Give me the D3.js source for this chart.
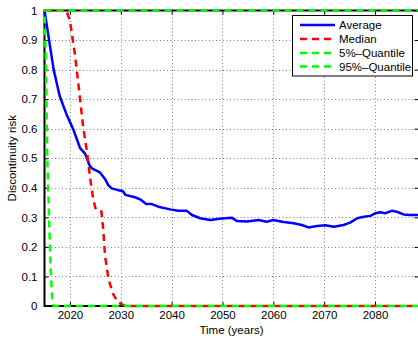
<!DOCTYPE html>
<html>
<head>
<meta charset="utf-8">
<script src="https://cdn.jsdelivr.net/npm/d3@7"></script>
<style>
  html, body { margin: 0; padding: 0; background: #fff; }
  svg { display: block; }
  text { font-family: "Liberation Sans", Arial, sans-serif; fill: #000; }
</style>
</head>
<body>
<svg id="chart" width="418" height="338"></svg>
<script>
// Discontinuity risk over time: average, median and 5%/95% quantiles
const avgYears = [2015, 2015.9, 2016.8, 2018.0, 2019.3, 2020.7, 2022.0, 2022.5, 2023.0, 2023.8, 2024.3,
  2025.9, 2026.9, 2027.5, 2028.2, 2029.5, 2030.4, 2030.9, 2032.8, 2033.8, 2035.0, 2036.1, 2037.4,
  2039.7, 2041.3, 2043.0, 2044.0, 2045.6, 2047.6, 2049.4, 2051.8, 2052.8, 2054.8, 2057.1, 2058.7,
  2060.0, 2062.0, 2064.0, 2065.6, 2066.9, 2068.6, 2070.2, 2071.9, 2073.8, 2075.1, 2076.5, 2077.8,
  2079.1, 2080.1, 2081.0, 2082.0, 2083.3, 2084.3, 2085.6, 2086.9, 2088.6];
const avgValues = [1.0, 0.9, 0.80, 0.71, 0.65, 0.596, 0.534, 0.525, 0.515, 0.478, 0.466,
  0.452, 0.43, 0.41, 0.398, 0.392, 0.389, 0.376, 0.368, 0.361, 0.345, 0.345, 0.336,
  0.327, 0.322, 0.322, 0.308, 0.297, 0.291, 0.295, 0.299, 0.288, 0.286, 0.291, 0.285,
  0.291, 0.284, 0.28, 0.274, 0.266, 0.271, 0.273, 0.268, 0.274, 0.282, 0.297, 0.302,
  0.305, 0.314, 0.317, 0.314, 0.322, 0.319, 0.31, 0.308, 0.308];

const medYears = [2015, 2019.3, 2020.0, 2021.0, 2021.8, 2022.6, 2023.3, 2024.0, 2024.6, 2025.1,
  2026.2, 2026.6, 2026.9, 2027.6, 2028.5, 2029.5, 2030.5, 2031.5, 2088.6];
const medValues = [1.0, 1.0, 0.965, 0.85, 0.73, 0.607, 0.528, 0.43, 0.36, 0.326,
  0.32, 0.25, 0.17, 0.09, 0.04, 0.012, 0.003, 0, 0];

const q05Years = [2015, 2015.3, 2015.55, 2015.9, 2016.2, 2016.5, 2016.8, 2088.6];
const q05Values = [1.0, 0.8, 0.5, 0.3, 0.13, 0.03, 0, 0];

const q95Years = [2015, 2088.6];
const q95Values = [1.0, 1.0];

const xTicks = [2020, 2030, 2040, 2050, 2060, 2070, 2080];
const yTicks = [0, 0.1, 0.2, 0.3, 0.4, 0.5, 0.6, 0.7, 0.8, 0.9, 1];

const seriesNames = ["Average", "Median", "5%\u2013Quantile", "95%\u2013Quantile"];
const seriesColors = ["#0000ff", "#ff0000", "#00ff00", "#00ff00"];
const seriesDash = [null, "7,5", "7,5", "7,5"];

const zip = (xs, ys) => xs.map((v, i) => [v, ys[i]]);
const series = [
  zip(avgYears, avgValues),
  zip(medYears, medValues),
  zip(q05Years, q05Values),
  zip(q95Years, q95Values)
];

const svg = d3.select("#chart");
const plotLeft = 44.5, plotRight = 418.5, plotTop = 10.5, plotBottom = 306;

const x = d3.scaleLinear().domain([2015, 2088.55]).range([plotLeft, plotRight]);
const y = d3.scaleLinear().domain([0, 1]).range([plotBottom, plotTop]);

// grid
const grid = svg.append("g").attr("stroke", "#808080").attr("stroke-width", 1)
  .attr("stroke-dasharray", "1,2.5");
grid.selectAll("line.gx").data(xTicks).join("line")
  .attr("x1", d => Math.round(x(d)) + 0.5).attr("x2", d => Math.round(x(d)) + 0.5)
  .attr("y1", plotTop).attr("y2", plotBottom);
grid.selectAll("line.gy").data(yTicks.filter(d => d > 0 && d < 1)).join("line")
  .attr("y1", d => Math.round(y(d)) + 0.5).attr("y2", d => Math.round(y(d)) + 0.5)
  .attr("x1", plotLeft).attr("x2", plotRight);

// axes: bottom / left with labels, top / right plain, all ticks pointing inward
const xAxis = d3.axisBottom(x).tickValues(xTicks).tickFormat(d3.format("d"))
  .tickSizeInner(-4).tickSizeOuter(0).tickPadding(5);
const yAxis = d3.axisLeft(y).tickValues(yTicks).tickFormat(d => d === 0 ? "0" : d === 1 ? "1" : d3.format(".1f")(d))
  .tickSizeInner(-4).tickSizeOuter(0).tickPadding(7);

function styleAxis(g) {
  g.select(".domain").remove();
  g.selectAll(".tick line").attr("stroke", "#000").attr("stroke-width", 1);
  g.selectAll(".tick text").attr("font-size", "11.5px")
    .attr("font-family", "'Liberation Sans', Arial, sans-serif").attr("fill", "#000");
}

svg.append("g").attr("transform", `translate(0,${plotBottom})`).call(xAxis).call(styleAxis);
svg.append("g").attr("transform", `translate(${plotLeft},0)`).call(yAxis).call(styleAxis);
svg.append("g").attr("transform", `translate(0,${plotTop})`)
  .call(d3.axisTop(x).tickValues(xTicks).tickFormat("").tickSizeInner(-4).tickSizeOuter(0)).call(styleAxis);
svg.append("g").attr("transform", `translate(${plotRight},0)`)
  .call(d3.axisRight(y).tickValues(yTicks).tickFormat("").tickSizeInner(-4).tickSizeOuter(0)).call(styleAxis);

// frame (right edge falls just beyond the visible canvas)
svg.append("rect").attr("x", plotLeft).attr("y", plotTop)
  .attr("width", plotRight + 1.5 - plotLeft).attr("height", plotBottom - plotTop)
  .attr("fill", "none").attr("stroke", "#000").attr("stroke-width", 2);

// data lines
const line = d3.line().x(d => x(d[0])).y(d => y(d[1]));
svg.append("g").selectAll("path").data(series).join("path")
  .attr("d", line)
  .attr("fill", "none")
  .attr("stroke", (d, i) => seriesColors[i])
  .attr("stroke-width", 2.5)
  .attr("stroke-linejoin", "round")
  .attr("stroke-dasharray", (d, i) => seriesDash[i])
  .attr("stroke-dashoffset", (d, i) => i === 2 ? 6 : 0);

// axis titles
svg.append("text").attr("x", (plotLeft + plotRight) / 2).attr("y", 334)
  .attr("text-anchor", "middle").attr("font-size", "11.5px").text("Time (years)");
svg.append("text").attr("transform", `translate(16,${(plotTop + plotBottom) / 2}) rotate(-90)`)
  .attr("text-anchor", "middle").attr("font-size", "11.5px").text("Discontinuity risk");

// legend
const lg = svg.append("g");
lg.append("rect").attr("x", 292.5).attr("y", 15.5).attr("width", 120).attr("height", 60.5)
  .attr("fill", "#fff").attr("stroke", "#000").attr("stroke-width", 1);
const rowY = [25, 39, 53, 66.5];
seriesNames.forEach((name, i) => {
  lg.append("line").attr("x1", 300).attr("x2", 335).attr("y1", rowY[i]).attr("y2", rowY[i])
    .attr("stroke", seriesColors[i]).attr("stroke-width", 2.5)
    .attr("stroke-dasharray", seriesDash[i]);
  lg.append("text").attr("x", 339).attr("y", rowY[i]).attr("dy", "0.35em")
    .attr("font-size", "11.5px").text(name);
});
</script>
</body>
</html>
